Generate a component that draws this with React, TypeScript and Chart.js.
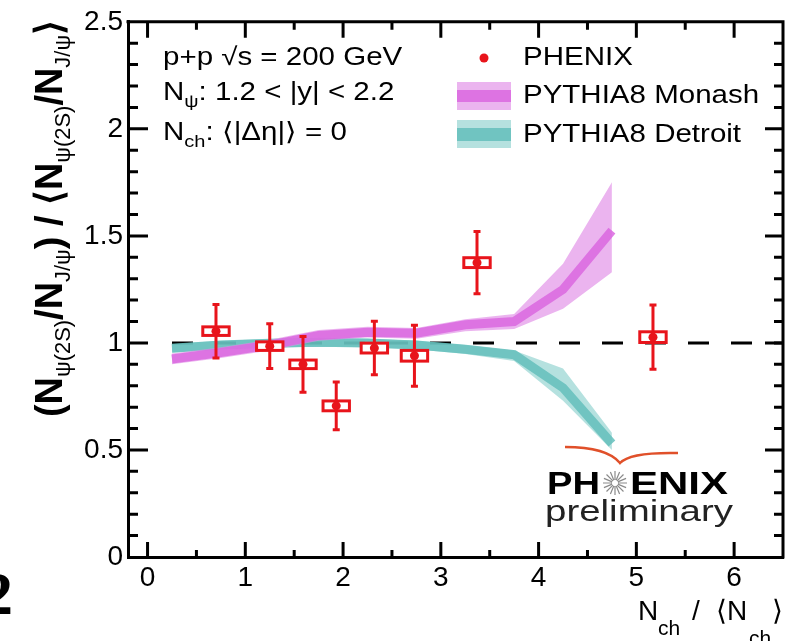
import React, { useEffect, useRef } from "react";
import { Chart, registerables } from "chart.js";

Chart.register(...registerables);

// ---------------- data ----------------
const modelX = [0.25, 0.75, 1.25, 1.75, 2.25, 2.75, 3.25, 3.75, 4.25, 4.75];
const monashMid = [0.925, 0.955, 0.99, 1.035, 1.05, 1.045, 1.085, 1.1, 1.25, 1.525];
const monashLo = [0.9, 0.93, 0.965, 1.01, 1.025, 1.02, 1.055, 1.065, 1.16, 1.33];
const monashHi = [0.95, 0.98, 1.015, 1.06, 1.075, 1.07, 1.11, 1.135, 1.37, 1.75];
const detroitMid = [0.975, 0.99, 0.998, 1.003, 1.0, 0.99, 0.97, 0.945, 0.79, 0.53];
const detroitLo = [0.955, 0.97, 0.978, 0.983, 0.98, 0.97, 0.948, 0.915, 0.73, 0.5];
const detroitHi = [0.995, 1.01, 1.018, 1.023, 1.02, 1.01, 0.99, 0.965, 0.88, 0.58];

const phenixX = [0.7, 1.25, 1.59, 1.93, 2.32, 2.73, 3.37, 5.17];
const phenixY = [1.055, 0.985, 0.9, 0.706, 0.976, 0.94, 1.375, 1.027];
const phenixStat = [0.125, 0.105, 0.13, 0.112, 0.125, 0.142, 0.145, 0.15];
const phenixSys = [0.02, 0.02, 0.02, 0.023, 0.023, 0.025, 0.023, 0.025];
const phenixBinHalf = 0.135;

const refX = [0.25, 6.5];
const refY = [1, 1];

const xTickValues = [0, 1, 2, 3, 4, 5, 6];
const yTickValues = [0, 0.5, 1, 1.5, 2, 2.5];
const X_MIN = -0.2;
const X_MAX = 6.5;
const Y_MIN = 0;
const Y_MAX = 2.5;

// ---------------- styles ----------------
const SANS = "'Liberation Sans', Arial, Helvetica, sans-serif";
const RED = "#e8141b";
const MONASH_LIGHT = "rgba(225,140,230,0.65)";
const MONASH_DARK = "rgba(218,105,224,0.85)";
const DETROIT_LIGHT = "rgba(120,200,196,0.55)";
const DETROIT_DARK = "rgba(100,192,188,0.85)";

type Seg = { t: string; size: number; bold?: boolean; dy?: number; family?: string };

function segFont(s: Seg) {
  return `${s.bold ? "bold " : ""}${s.size}px ${s.family ?? SANS}`;
}
function segsWidth(ctx: CanvasRenderingContext2D, segs: Seg[]) {
  let w = 0;
  for (const s of segs) {
    ctx.font = segFont(s);
    w += ctx.measureText(s.t).width;
  }
  return w;
}
function drawSegs(ctx: CanvasRenderingContext2D, segs: Seg[], x: number, y: number, sx: number) {
  ctx.save();
  ctx.translate(x, y);
  ctx.scale(sx, 1);
  ctx.textAlign = "left";
  ctx.textBaseline = "alphabetic";
  let cx = 0;
  for (const s of segs) {
    ctx.font = segFont(s);
    ctx.fillText(s.t, cx, s.dy ?? 0);
    cx += ctx.measureText(s.t).width;
  }
  ctx.restore();
}
function fitText(ctx: CanvasRenderingContext2D, t: string, x: number, y: number, font: string, width: number) {
  ctx.save();
  ctx.font = font;
  const w = ctx.measureText(t).width;
  ctx.translate(x, y);
  ctx.scale(width / w, 1);
  ctx.textAlign = "left";
  ctx.textBaseline = "alphabetic";
  ctx.fillText(t, 0, 0);
  ctx.restore();
}

const pts = (xs: number[], ys: number[]) => xs.map((x, i) => ({ x, y: ys[i] }));

const decorPlugin = {
  id: "decor",
  beforeDatasetDraw(chart: any, args: any) {
    const ds = chart.data.datasets[args.index];
    if (ds.label !== "PHENIX") return;
    const { ctx, scales } = chart;
    const xs = scales.x;
    const ys = scales.y;
    ctx.save();
    for (let i = 0; i < phenixX.length; i++) {
      const cx = xs.getPixelForValue(phenixX[i]);
      const l = xs.getPixelForValue(phenixX[i] - phenixBinHalf);
      const r = xs.getPixelForValue(phenixX[i] + phenixBinHalf);
      const t = ys.getPixelForValue(phenixY[i] + phenixSys[i]);
      const b = ys.getPixelForValue(phenixY[i] - phenixSys[i]);
      ctx.fillStyle = "#fff";
      ctx.fillRect(l, t, r - l, b - t);
      ctx.strokeStyle = RED;
      ctx.lineWidth = 3;
      ctx.strokeRect(l, t, r - l, b - t);
      const et = ys.getPixelForValue(phenixY[i] + phenixStat[i]);
      const eb = ys.getPixelForValue(phenixY[i] - phenixStat[i]);
      ctx.beginPath();
      ctx.moveTo(cx, et);
      ctx.lineTo(cx, eb);
      ctx.moveTo(cx - 3.5, et);
      ctx.lineTo(cx + 3.5, et);
      ctx.moveTo(cx - 3.5, eb);
      ctx.lineTo(cx + 3.5, eb);
      ctx.stroke();
    }
    ctx.restore();
  },
  afterDraw(chart: any) {
    const { ctx, chartArea: ca, scales } = chart;
    const xs = scales.x;
    const ys = scales.y;
    ctx.save();
    ctx.strokeStyle = "#000";
    ctx.fillStyle = "#000";
    ctx.lineWidth = 3;
    // frame top & right
    ctx.beginPath();
    ctx.moveTo(ca.left - 1.5, ca.top);
    ctx.lineTo(ca.right, ca.top);
    ctx.lineTo(ca.right, ca.bottom + 1.5);
    ctx.stroke();
    // y ticks
    ctx.beginPath();
    for (let i = 1; i < 25; i++) {
      const v = i / 10;
      const p = ys.getPixelForValue(v);
      const major = i % 5 === 0;
      ctx.moveTo(ca.left, p);
      ctx.lineTo(ca.left + (major ? 20 : 10), p);
      ctx.moveTo(ca.right, p);
      ctx.lineTo(ca.right - (major ? 18 : 9), p);
    }
    // x ticks
    for (let i = 0; i <= 12; i++) {
      const v = i / 2;
      const p = xs.getPixelForValue(v);
      const major = i % 2 === 0;
      ctx.moveTo(p, ca.bottom);
      ctx.lineTo(p, ca.bottom - (major ? 15 : 7));
      ctx.moveTo(p, ca.top);
      ctx.lineTo(p, ca.top + (major ? 16 : 8));
    }
    ctx.stroke();

    // y-axis title (rotated)
    const ySegs: Seg[] = [
      { t: "(", size: 38, bold: true },
      { t: "N", size: 38, bold: true },
      { t: "ψ(2S)", size: 22, dy: 8 },
      { t: "/", size: 38, bold: true },
      { t: "N", size: 38, bold: true },
      { t: "J/ψ", size: 22, dy: 8 },
      { t: ")", size: 38, bold: true },
      { t: " / ", size: 38, bold: true },
      { t: "⟨", size: 38, bold: true },
      { t: "N", size: 38, bold: true },
      { t: "ψ(2S)", size: 22, dy: 8 },
      { t: "/", size: 38, bold: true },
      { t: "N", size: 38, bold: true },
      { t: "J/ψ", size: 22, dy: 8 },
      { t: "⟩", size: 38, bold: true },
    ];
    ctx.save();
    ctx.translate(62, 417);
    ctx.rotate(-Math.PI / 2);
    const yw = segsWidth(ctx, ySegs);
    drawSegs(ctx, ySegs, 0, 0, 397 / yw);
    ctx.restore();

    // x-axis title
    const xPieces: { t: string; x: number; size: number; dy: number }[] = [
      { t: "N", x: 638, size: 28, dy: 0 },
      { t: "ch", x: 658, size: 21, dy: 15 },
      { t: "/", x: 692, size: 28, dy: 0 },
      { t: "⟨", x: 716, size: 28, dy: 0 },
      { t: "N", x: 727, size: 28, dy: 0 },
      { t: "ch", x: 749, size: 21, dy: 25 },
      { t: "⟩", x: 772, size: 28, dy: 0 },
    ];
    ctx.textAlign = "left";
    ctx.textBaseline = "alphabetic";
    for (const p of xPieces) {
      ctx.font = `${p.size}px ${SANS}`;
      ctx.fillText(p.t, p.x, 620 + p.dy);
    }

    // annotation
    const SX = 1.18;
    drawSegs(ctx, [{ t: "p+p √s = 200 GeV", size: 25 }], 163, 65, SX);
    drawSegs(
      ctx,
      [
        { t: "N", size: 25 },
        { t: "ψ", size: 17, dy: 7 },
        { t: ": 1.2 < |y| < 2.2", size: 25 },
      ],
      163,
      100,
      SX
    );
    drawSegs(
      ctx,
      [
        { t: "N", size: 25 },
        { t: "ch", size: 17, dy: 7 },
        { t: ": ⟨|Δη|⟩ = 0", size: 25 },
      ],
      163,
      140,
      SX
    );

    // legend
    ctx.fillStyle = RED;
    ctx.beginPath();
    ctx.arc(484, 58, 4.5, 0, Math.PI * 2);
    ctx.fill();
    ctx.fillStyle = MONASH_LIGHT;
    ctx.fillRect(457, 82, 54, 28);
    ctx.fillStyle = MONASH_DARK;
    ctx.fillRect(457, 90, 54, 12);
    ctx.fillStyle = DETROIT_LIGHT;
    ctx.fillRect(457, 120, 54, 28);
    ctx.fillStyle = DETROIT_DARK;
    ctx.fillRect(457, 128, 54, 13);
    ctx.fillStyle = "#000";
    drawSegs(ctx, [{ t: "PHENIX", size: 25 }], 523, 65, SX);
    drawSegs(ctx, [{ t: "PYTHIA8 Monash", size: 25 }], 523, 103, SX);
    drawSegs(ctx, [{ t: "PYTHIA8 Detroit", size: 25 }], 523, 142, SX);

    // PHENIX logo
    ctx.strokeStyle = "#e0502a";
    ctx.lineWidth = 2.5;
    ctx.beginPath();
    ctx.moveTo(565, 447);
    ctx.quadraticCurveTo(607, 447, 620, 463);
    ctx.quadraticCurveTo(630, 452, 678, 453);
    ctx.stroke();
    ctx.fillStyle = "#000";
    fitText(ctx, "PH", 547, 494, `bold 31px ${SANS}`, 53);
    fitText(ctx, "ENIX", 630, 494, `bold 31px ${SANS}`, 98);
    ctx.strokeStyle = "#8a8a8a";
    ctx.lineWidth = 1.2;
    ctx.beginPath();
    for (let k = 0; k < 16; k++) {
      const a = (k * Math.PI) / 8;
      ctx.moveTo(615 + 3 * Math.cos(a), 483 + 3 * Math.sin(a));
      ctx.lineTo(615 + 12 * Math.cos(a), 483 + 12 * Math.sin(a));
    }
    ctx.stroke();
    ctx.fillStyle = "#222";
    fitText(ctx, "preliminary", 545, 521, `30px ${SANS}`, 188);

    // stray page number at lower left
    ctx.fillStyle = "#000";
    ctx.font = "bold 62px 'Liberation Serif', 'DejaVu Serif', serif";
    ctx.textAlign = "right";
    ctx.fillText("2", 13, 614);
    ctx.restore();
  },
};

export default function App() {
  const canvasRef = useRef<HTMLCanvasElement | null>(null);

  useEffect(() => {
    const canvas = canvasRef.current;
    if (!canvas) return;
    const chart = new Chart(canvas, {
      type: "line",
      data: {
        datasets: [
          {
            label: "Monash band hi",
            data: pts(modelX, monashHi),
            fill: "+1",
            backgroundColor: MONASH_LIGHT,
            borderColor: "transparent",
            borderWidth: 0,
            pointRadius: 0,
            order: 3,
          },
          {
            label: "Monash band lo",
            data: pts(modelX, monashLo),
            fill: false,
            borderColor: "transparent",
            borderWidth: 0,
            pointRadius: 0,
            order: 3,
          },
          {
            label: "PYTHIA8 Monash",
            data: pts(modelX, monashMid),
            fill: false,
            borderColor: MONASH_DARK,
            borderWidth: 9,
            borderJoinStyle: "miter",
            pointRadius: 0,
            order: 2,
          },
          {
            label: "Detroit band hi",
            data: pts(modelX, detroitHi),
            fill: "+1",
            backgroundColor: DETROIT_LIGHT,
            borderColor: "transparent",
            borderWidth: 0,
            pointRadius: 0,
            order: 5,
          },
          {
            label: "Detroit band lo",
            data: pts(modelX, detroitLo),
            fill: false,
            borderColor: "transparent",
            borderWidth: 0,
            pointRadius: 0,
            order: 5,
          },
          {
            label: "PYTHIA8 Detroit",
            data: pts(modelX, detroitMid),
            fill: false,
            borderColor: DETROIT_DARK,
            borderWidth: 9,
            borderJoinStyle: "miter",
            pointRadius: 0,
            order: 4,
          },
          {
            label: "ref",
            data: pts(refX, refY),
            fill: false,
            borderColor: "#000",
            borderWidth: 3,
            borderDash: [21, 22],
            pointRadius: 0,
            order: 10,
          },
          {
            label: "PHENIX",
            data: pts(phenixX, phenixY),
            showLine: false,
            fill: false,
            borderColor: "transparent",
            borderWidth: 0,
            pointRadius: 4.5,
            pointBackgroundColor: RED,
            pointBorderWidth: 0,
            order: 0,
          },
        ] as any,
      },
      options: {
        responsive: false,
        animation: false,
        devicePixelRatio: 1,
        events: [],
        layout: { padding: { left: 0, top: 19, right: 9, bottom: 0 } },
        elements: { line: { tension: 0 } },
        plugins: {
          legend: { display: false },
          tooltip: { enabled: false },
        },
        scales: {
          x: {
            type: "linear",
            min: X_MIN,
            max: X_MAX,
            grid: { display: false, drawTicks: false },
            border: { display: true, color: "#000", width: 3 },
            afterBuildTicks: (s: any) => {
              s.ticks = xTickValues.map((v) => ({ value: v }));
            },
            afterFit: (s: any) => {
              s.height = 84;
            },
            ticks: {
              color: "#000",
              font: { family: SANS, size: 28 },
              padding: 4,
              maxRotation: 0,
              autoSkip: false,
              callback: (v: any) => String(v),
            },
          },
          y: {
            type: "linear",
            min: Y_MIN,
            max: Y_MAX,
            grid: { display: false, drawTicks: false },
            border: { display: true, color: "#000", width: 3 },
            afterBuildTicks: (s: any) => {
              s.ticks = yTickValues.map((v) => ({ value: v }));
            },
            afterFit: (s: any) => {
              s.width = 128;
            },
            ticks: {
              color: "#000",
              font: { family: SANS, size: 28 },
              padding: 5,
              autoSkip: false,
              callback: (v: any) => String(v),
            },
          },
        },
      } as any,
      plugins: [decorPlugin],
    });
    return () => chart.destroy();
  }, []);

  return (
    <div style={{ position: "fixed", left: 0, top: 0, width: 792, height: 641, background: "#fff" }}>
      <canvas ref={canvasRef} width={792} height={641} style={{ display: "block" }} />
    </div>
  );
}
